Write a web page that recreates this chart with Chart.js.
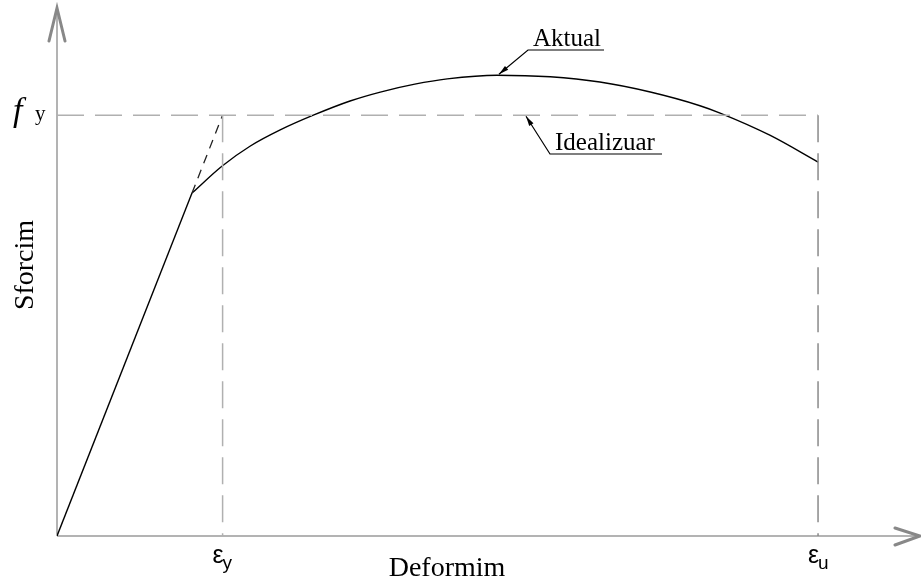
<!DOCTYPE html>
<html>
<head>
<meta charset="utf-8">
<title>Sforcim - Deformim</title>
<script src="https://cdn.jsdelivr.net/npm/chart.js@4/dist/chart.umd.min.js"></script>
<style>
  html, body { margin: 0; padding: 0; background: #fff; }
  #wrap { width: 921px; height: 580px; }
</style>
</head>
<body>
<div id="wrap"><canvas id="chart" width="921" height="580"></canvas></div>
<script>
  // values (strain in arbitrary units, stress with fy = 80)
  const EPS_Y = 2.3;
  const EPS_U = 10.57;
  const FY = 80;

  const elasticStrain = [0, 1.875];
  const elasticStress = [0, 65.2];

  const plasticStrain = [1.875, 2.29, 2.68, 3.10, 3.56, 4.07, 4.49, 4.97, 5.42, 6.11, 6.85, 7.54, 8.24, 8.93, 9.21, 9.90, 10.57];
  const plasticStress = [65.2, 70.3, 74.1, 77.2, 80.0, 82.7, 84.4, 85.9, 86.9, 87.6, 87.3, 86.3, 84.4, 81.8, 80.4, 76.2, 71.1];

  const idealStrain = [1.875, EPS_Y];
  const idealStress = [65.2, FY];

  const tickLabels = { x: [['ε', 'y'], ['ε', 'u']], y: [['f', 'y']] };
  const axisTitles = { x: 'Deformim', y: 'Sforcim' };
  const notes = ['Aktual', 'Idealizuar'];

  function pts(xs, ys) {
    return xs.map((x, i) => ({ x: x, y: ys[i] }));
  }

  const SERIF = '"Liberation Serif", "Times New Roman", serif';
  const SANS = '"Liberation Sans", Arial, sans-serif';

  function arrowHead(ctx, x0, y0, x1, y1, len, half) {
    const a = Math.atan2(y1 - y0, x1 - x0);
    ctx.beginPath();
    ctx.moveTo(x1, y1);
    ctx.lineTo(x1 - len * Math.cos(a) + half * Math.sin(a), y1 - len * Math.sin(a) - half * Math.cos(a));
    ctx.lineTo(x1 - len * Math.cos(a) - half * Math.sin(a), y1 - len * Math.sin(a) + half * Math.cos(a));
    ctx.closePath();
    ctx.fill();
  }

  const axesPlugin = {
    id: 'axes',
    beforeDatasetsDraw(chart) {
      const ctx = chart.ctx;
      const xs = chart.scales.x;
      const ys = chart.scales.y;
      const x0 = xs.getPixelForValue(0);
      const y0 = ys.getPixelForValue(0);
      ctx.save();
      ctx.strokeStyle = '#9a9a9a';
      ctx.lineWidth = 1.5;
      ctx.beginPath();
      ctx.moveTo(x0, y0);
      ctx.lineTo(920, y0);
      ctx.moveTo(x0, y0);
      ctx.lineTo(x0, 8);
      ctx.stroke();

      // open arrow heads
      ctx.strokeStyle = '#888';
      ctx.lineWidth = 3;
      ctx.lineCap = 'round';
      ctx.beginPath();
      ctx.moveTo(895, y0 - 8);
      ctx.lineTo(920, y0);
      ctx.lineTo(895, y0 + 9);
      ctx.moveTo(x0 - 8, 41);
      ctx.lineTo(x0, 8);
      ctx.lineTo(x0 + 8, 41);
      ctx.stroke();
      ctx.restore();
    },
    afterDraw(chart) {
      const ctx = chart.ctx;
      const xs = chart.scales.x;
      const ys = chart.scales.y;
      ctx.save();
      ctx.fillStyle = '#000';
      ctx.textBaseline = 'alphabetic';

      // f_y
      const fyPix = ys.getPixelForValue(FY);
      ctx.textAlign = 'left';
      ctx.font = 'italic 34px ' + SERIF;
      ctx.fillText(tickLabels.y[0][0], 13, fyPix + 6);
      ctx.font = '21px ' + SERIF;
      ctx.fillText(tickLabels.y[0][1], 35, fyPix + 5);

      // eps_y, eps_u
      [EPS_Y, EPS_U].forEach((v, i) => {
        const px = xs.getPixelForValue(v);
        ctx.font = '25px ' + SANS;
        ctx.textAlign = 'right';
        ctx.fillText(tickLabels.x[i][0], px + 1, 563);
        ctx.font = '19px ' + SANS;
        ctx.textAlign = 'left';
        ctx.fillText(tickLabels.x[i][1], px, 569);
      });

      // axis titles
      ctx.font = '28px ' + SERIF;
      ctx.textAlign = 'center';
      ctx.fillText(axisTitles.x, 447, 576);
      ctx.save();
      ctx.translate(33, 265);
      ctx.rotate(-Math.PI / 2);
      ctx.fillText(axisTitles.y, 0, 0);
      ctx.restore();

      // call-outs
      const peak = { x: xs.getPixelForValue(6.11), y: ys.getPixelForValue(87.6) };
      const onFy = { x: xs.getPixelForValue(6.5), y: fyPix };
      ctx.font = '25px ' + SERIF;
      ctx.textAlign = 'left';
      ctx.lineWidth = 1.2;
      ctx.strokeStyle = '#000';

      ctx.fillText(notes[0], 533, 46);
      ctx.beginPath();
      ctx.moveTo(604, 50);
      ctx.lineTo(528, 50);
      ctx.lineTo(peak.x + 2, peak.y - 1);
      ctx.stroke();
      arrowHead(ctx, 528, 50, peak.x + 2, peak.y - 1, 10, 2.5);

      ctx.fillText(notes[1], 555, 150);
      ctx.beginPath();
      ctx.moveTo(662, 154);
      ctx.lineTo(550, 154);
      ctx.lineTo(onFy.x + 1, onFy.y + 1);
      ctx.stroke();
      arrowHead(ctx, 550, 154, onFy.x + 1, onFy.y + 1, 10, 2.5);
      ctx.restore();
    }
  };

  const greyDash = {
    borderColor: '#b0b0b0',
    borderWidth: 1.5,
    borderDash: [27, 11],
    pointRadius: 0,
    showLine: true,
    tension: 0
  };

  new Chart(document.getElementById('chart'), {
    type: 'scatter',
    data: {
      datasets: [
        Object.assign({ label: 'fy', data: pts([0, EPS_U], [FY, FY]) }, greyDash),
        Object.assign({ label: 'eps_y', data: pts([EPS_Y, EPS_Y], [FY, 0]) }, greyDash),
        Object.assign({ label: 'eps_u', data: pts([EPS_U, EPS_U], [FY, 0]) }, greyDash, { borderColor: '#8a8a8a' }),
        {
          label: 'Idealizuar',
          data: pts(idealStrain, idealStress),
          borderColor: '#222',
          borderWidth: 1.3,
          borderDash: [9, 7],
          pointRadius: 0,
          showLine: true
        },
        {
          label: 'Aktual elastik',
          data: pts(elasticStrain, elasticStress),
          borderColor: '#000',
          borderWidth: 1.4,
          pointRadius: 0,
          showLine: true,
          tension: 0
        },
        {
          label: 'Aktual',
          data: pts(plasticStrain, plasticStress),
          borderColor: '#000',
          borderWidth: 1.4,
          pointRadius: 0,
          showLine: true,
          cubicInterpolationMode: 'monotone'
        }
      ]
    },
    options: {
      responsive: false,
      animation: false,
      layout: { padding: { left: 57, right: 0, top: 10, bottom: 44 } },
      plugins: { legend: { display: false }, tooltip: { enabled: false } },
      scales: {
        x: { type: 'linear', min: 0, max: 12, display: false },
        y: { type: 'linear', min: 0, max: 100, display: false }
      }
    },
    plugins: [axesPlugin]
  });
</script>
</body>
</html>
